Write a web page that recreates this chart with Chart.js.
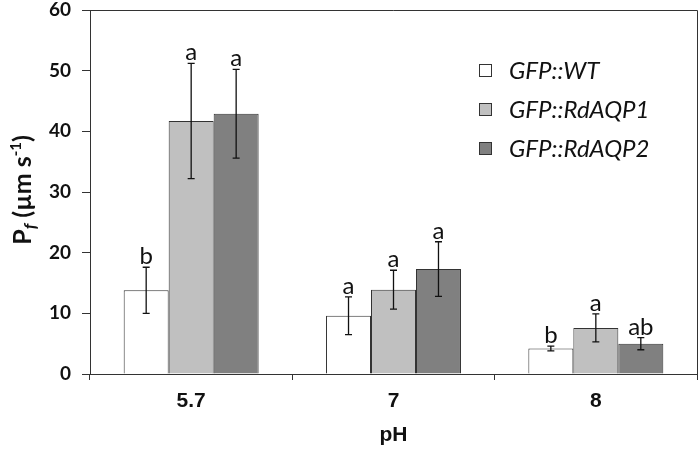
<!DOCTYPE html>
<html lang="en">
<head>
    <meta charset="UTF-8">
    <title>Pf by pH</title>
    <script src="https://cdn.jsdelivr.net/npm/chart.js"></script>
    <style>
        html, body { margin: 0; padding: 0; background: #fff; }
        #wrap { width: 700px; height: 449px; }
    </style>
</head>
<body>
    <div id="wrap"><canvas id="pfChart" width="700" height="449"></canvas></div>

    <script>
        // data
        const categories = ['5.7', '7', '8'];
        const seriesLabels = ['GFP::WT', 'GFP::RdAQP1', 'GFP::RdAQP2'];
        const wtMeans = [13.8, 9.6, 4.2];
        const wtErr = [3.8, 3.1, 0.4];
        const aqp1Means = [41.7, 13.9, 7.6];
        const aqp1Err = [9.5, 3.2, 2.3];
        const aqp2Means = [42.9, 17.3, 5.0];
        const aqp2Err = [7.3, 4.5, 1.0];
        const wtLetters = ['b', 'a', 'b'];
        const aqp1Letters = ['a', 'a', 'a'];
        const aqp2Letters = ['a', 'a', 'ab'];
        const yTicks = [0, 10, 20, 30, 40, 50, 60];

        const calibri = 'Lato, "Open Sans", sans-serif';
        const arial = '"Liberation Sans", Arial, sans-serif';

        const errors = [wtErr, aqp1Err, aqp2Err];
        const letters = [wtLetters, aqp1Letters, aqp2Letters];

        // error bars + significance letters
        const errorBars = {
            id: 'errorBars',
            afterDatasetsDraw(chart) {
                const ctx = chart.ctx;
                const y = chart.scales.y;
                ctx.save();
                chart.data.datasets.forEach((ds, i) => {
                    const meta = chart.getDatasetMeta(i);
                    meta.data.forEach((bar, j) => {
                        const v = ds.data[j], e = errors[i][j];
                        const top = y.getPixelForValue(v + e);
                        const bot = y.getPixelForValue(v - e);
                        ctx.strokeStyle = '#111';
                        ctx.lineWidth = 1.3;
                        ctx.beginPath();
                        ctx.moveTo(bar.x, top); ctx.lineTo(bar.x, bot);
                        ctx.moveTo(bar.x - 3.5, top); ctx.lineTo(bar.x + 3.5, top);
                        ctx.moveTo(bar.x - 3.5, bot); ctx.lineTo(bar.x + 3.5, bot);
                        ctx.stroke();
                        ctx.fillStyle = '#111';
                        ctx.font = '24px ' + calibri;
                        ctx.textAlign = 'center';
                        ctx.textBaseline = 'alphabetic';
                        ctx.fillText(letters[i][j], bar.x, top - 3);
                    });
                });
                ctx.restore();
            }
        };

        // frame top/right, legend, rich y title
        const extras = {
            id: 'extras',
            afterDraw(chart) {
                const ctx = chart.ctx;
                const a = chart.chartArea;
                ctx.save();
                ctx.strokeStyle = '#333';
                ctx.lineWidth = 1;
                ctx.beginPath();
                ctx.moveTo(a.left, a.top + 0.5);
                ctx.lineTo(a.right + 0.5, a.top + 0.5);
                ctx.lineTo(a.right + 0.5, a.bottom + 6);
                ctx.stroke();

                // legend
                chart.data.datasets.forEach((ds, i) => {
                    const lx = a.right - 218, ly = a.top + 60 + i * 39;
                    ctx.fillStyle = ds.backgroundColor;
                    ctx.fillRect(lx, ly - 6, 13, 13);
                    ctx.strokeStyle = '#333';
                    ctx.strokeRect(lx + 0.5, ly - 5.5, 12, 12);
                    ctx.fillStyle = '#111';
                    ctx.font = 'italic 24px ' + calibri;
                    ctx.textAlign = 'left';
                    ctx.textBaseline = 'middle';
                    ctx.fillText(ds.label, lx + 30, ly + 1);
                });

                // y title: P_f (µm s^-1)
                ctx.translate(22, 190);
                ctx.rotate(-Math.PI / 2);
                ctx.fillStyle = '#111';
                ctx.textBaseline = 'alphabetic';
                ctx.textAlign = 'left';
                const parts = [
                    ['P', 'bold 25px ' + calibri, 0],
                    ['f', 'bold italic 17px ' + calibri, 5],
                    [' (µm s', 'bold 25px ' + calibri, 0],
                    ['-1', 'bold 15px ' + calibri, -10],
                    [')', 'bold 25px ' + calibri, 0]
                ];
                let w = 0;
                parts.forEach(p => { ctx.font = p[1]; w += ctx.measureText(p[0]).width; });
                let x = -w / 2;
                parts.forEach(p => {
                    ctx.font = p[1];
                    ctx.fillText(p[0], x, 9 + p[2]);
                    x += ctx.measureText(p[0]).width;
                });
                ctx.restore();
            }
        };

        new Chart(document.getElementById('pfChart'), {
            type: 'bar',
            data: {
                labels: categories,
                datasets: [
                    { label: seriesLabels[0], data: wtMeans, backgroundColor: '#ffffff' },
                    { label: seriesLabels[1], data: aqp1Means, backgroundColor: '#c0c0c0' },
                    { label: seriesLabels[2], data: aqp2Means, backgroundColor: '#808080' }
                ].map(d => Object.assign(d, { borderColor: '#333', borderWidth: 1 }))
            },
            options: {
                responsive: false,
                animation: false,
                events: [],
                layout: { padding: { top: 10, right: 3, bottom: 0, left: 0 } },
                datasets: { bar: { categoryPercentage: 0.667, barPercentage: 1.0 } },
                plugins: { legend: { display: false }, tooltip: { enabled: false } },
                scales: {
                    x: {
                        afterFit: s => { s.height = 75; s.paddingLeft = 0; s.paddingRight = 0; },
                        grid: { drawOnChartArea: false, drawTicks: true, tickLength: 6, color: '#333' },
                        border: { color: '#333', width: 1 },
                        ticks: { color: '#111', padding: 9, font: { family: arial, size: 21, weight: 'bold' } },
                        title: { display: true, text: 'pH', color: '#111', padding: { top: 0, bottom: 1 },
                                 font: { family: arial, size: 21, weight: 'bold' } }
                    },
                    y: {
                        min: 0,
                        max: 60,
                        afterFit: s => { s.width = 90; s.paddingTop = 0; s.paddingBottom = 0; },
                        afterBuildTicks: s => { s.ticks = yTicks.map(v => ({ value: v })); },
                        grid: { drawOnChartArea: false, drawTicks: true, tickLength: 8, color: '#333' },
                        border: { color: '#333', width: 1 },
                        ticks: { color: '#111', padding: 11, font: { family: calibri, size: 19, weight: 'bold' } }
                    }
                }
            },
            plugins: [errorBars, extras]
        });
    </script>
</body>
</html>
